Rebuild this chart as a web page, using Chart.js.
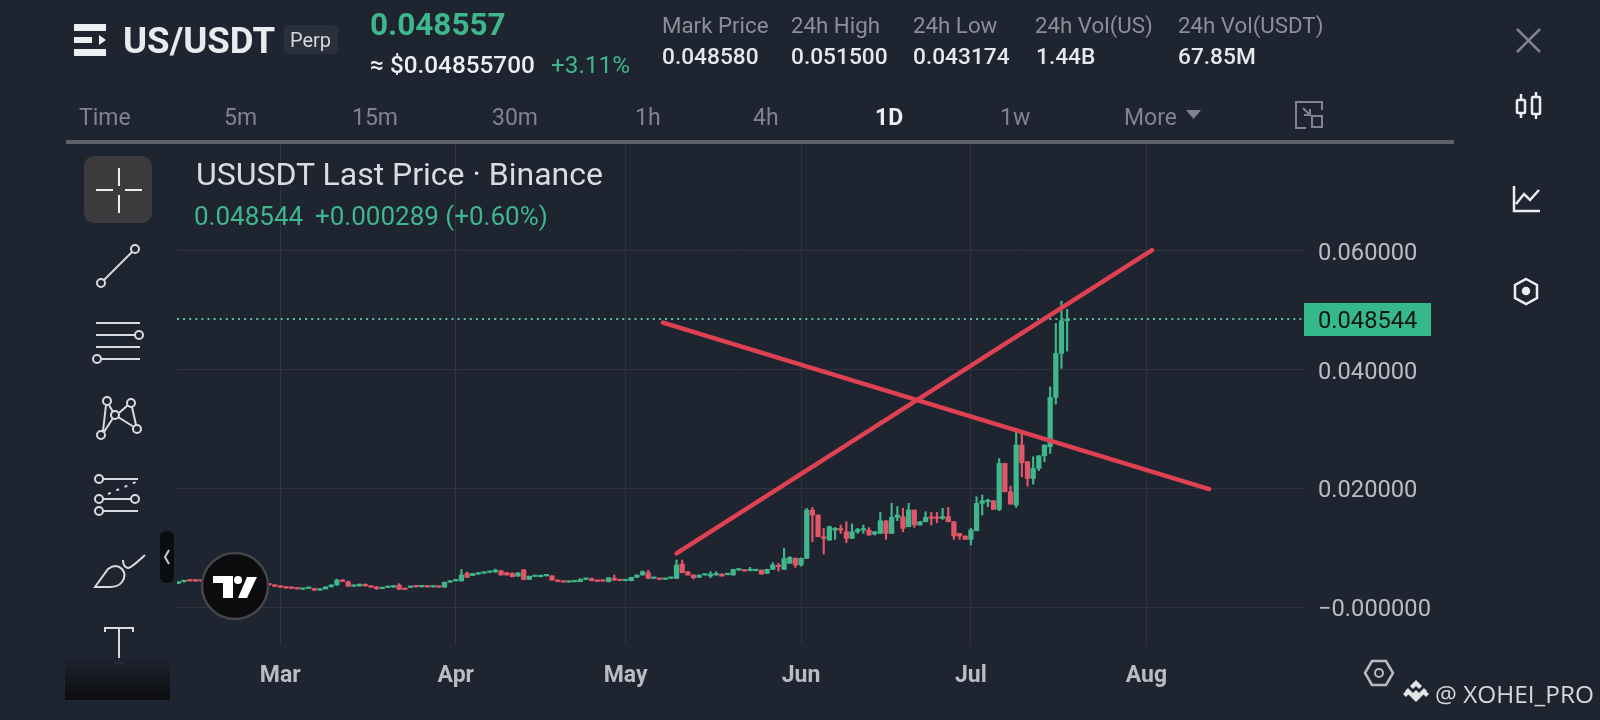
<!DOCTYPE html>
<html>
<head>
<meta charset="utf-8">
<title>US/USDT</title>
<script src="https://cdn.jsdelivr.net/npm/chart.js@4"></script>
<style>
  html, body { margin: 0; padding: 0; background: #1e2430; }
  #wrap { position: relative; width: 1600px; height: 720px; overflow: hidden; font-family: Roboto, sans-serif; }
  #priceChart { position: absolute; left: 0; top: 0; }
  .t { position: absolute; transform: translateY(-50%); white-space: nowrap; line-height: 1; }
  .green { color: #3fb68b; }
  .grey { color: #8a8f99; font-size: 22.3px; }
  .val { color: #e6e8ec; font-size: 22.7px; font-weight: 500; }
  .tab { color: #7f848e; font-size: 23px; top: 117px; }
  svg { position: absolute; left: 0; top: 0; pointer-events: none; }
</style>
</head>
<body>
<div id="wrap">
  <canvas id="priceChart" width="1600" height="720"></canvas>

  <svg width="1600" height="720" fill="none" stroke="#d9dbe0" stroke-width="2">
    <!-- cabecera -->
    <g stroke="none" fill="#eceef2">
      <rect x="74" y="24" width="32" height="7"/><rect x="74" y="37" width="18" height="6"/>
      <path d="M99 35 L106 40 L99 45 Z"/><rect x="74" y="49" width="32" height="7"/>
    </g>
    <rect x="284" y="25" width="54" height="29" rx="4" fill="#2a303b" stroke="none"/>
    <rect x="66" y="140" width="1388" height="4" fill="#5e626b" stroke="none"/>
    <path d="M1186 110 h15 l-7.5 9 Z" fill="#7f848e" stroke="none"/>
    <g stroke="#7f848e"><path d="M1322 110 V102 H1296 V128 H1306"/><path d="M1303 108 l7 7 M1310 109 v6 h-6"/><rect x="1312" y="116" width="10" height="11"/></g>
    <path d="M1517 29 L1540 52 M1540 29 L1517 52" stroke="#7f848e" stroke-width="2.5"/>
    <!-- barra derecha -->
    <g stroke="#eceef2" stroke-width="2.5">
      <rect x="1517" y="100" width="8" height="13" rx="1"/><path d="M1521 94 v6 M1521 113 v5"/>
      <rect x="1532" y="97" width="8" height="17" rx="1"/><path d="M1536 92 v5 M1536 114 v5"/>
      <path d="M1514 186 V211 H1540 M1516 204 l8 -10 l6 6 l9 -10"/>
      <path d="M1526 279 l11 6 v13 l-11 6 l-11 -6 v-13 Z"/><circle cx="1526" cy="291" r="3" fill="#eceef2"/>
    </g>
    <!-- herramientas -->
    <rect x="84" y="156" width="68" height="67" rx="10" fill="#3c3c3f" stroke="none"/>
    <path d="M119 168 v18 M119 195 v18 M96 190 h17 M125 190 h17" stroke="#eceef2"/>
    <g>
      <circle cx="101" cy="283" r="4"/><circle cx="135" cy="249" r="4"/><path d="M104 280 L132 252"/>
      <path d="M96 323 H140 M96 335 H135 M96 347 H140 M101 359 H140"/><circle cx="139" cy="335" r="4"/><circle cx="97" cy="359" r="4"/>
      <circle cx="101" cy="435" r="4"/><circle cx="107" cy="401" r="4"/><circle cx="115" cy="415" r="4"/><circle cx="131" cy="403" r="4"/><circle cx="137" cy="429" r="4"/>
      <path d="M103 431 L106 405 M109 405 L113 412 M113 418 L104 432 M119 413 L128 405 M118 417 L134 427 M132 407 L136 425"/>
      <circle cx="99" cy="479" r="4"/><circle cx="99" cy="499" r="4"/><circle cx="99" cy="511" r="4"/><circle cx="135" cy="499" r="4"/>
      <path d="M103 479 H138 M103 499 H131 M103 511 H138"/><path d="M108 494 L136 482" stroke-dasharray="3 6"/>
      <path d="M95 587 L108 569 Q116 563 122 569 Q127 575 122 582 Q118 587 110 587 Z M123 560 Q123 567 128 568 Q131 568 145 555"/>
      <path d="M105 632 V628 H133 V632 M119 628 V663 M114 663 H124"/>
    </g>
    <defs><linearGradient id="fade" x1="0" y1="0" x2="0" y2="1"><stop offset="0" stop-color="#1e2430"/><stop offset="1" stop-color="#0d0d0f"/></linearGradient></defs>
    <rect x="65" y="658" width="105" height="42" fill="url(#fade)" stroke="none" opacity="0.95"/>
    <rect x="160" y="531" width="14" height="52" rx="6" fill="#0c0d10" stroke="none"/>
    <path d="M169 550 L165 557 L169 564" stroke="#c9ccd2"/>
    <!-- logo -->
    <circle cx="235" cy="586" r="33" fill="#0c0c0e" stroke="#45464a" stroke-width="2.5"/>
    <g fill="#fff" stroke="none"><path d="M213 576 H233 V598 H223 V583 H213 Z"/><circle cx="238" cy="580" r="4"/><path d="M247 577 H257 L247 598 H238 Z"/></g>
    <!-- marca de agua -->
    <path d="M1365 673 l7 -12 h14 l7 12 l-7 12 h-14 Z" stroke="#b8bbc2" stroke-width="2.5"/><circle cx="1379" cy="673" r="4" stroke="#b8bbc2"/>
    <g fill="#e2e3e6" stroke="none"><path d="M1416 680 l6 6 l-3 3 l-3 -3 l-3 3 l-3 -3 Z M1405 691 l3 -3 l8 8 l8 -8 l3 3 l-11 11 Z M1416 690 l4 4 l-4 4 l-4 -4 Z M1403 694 l3 -3 l3 3 l-3 3 Z M1423 694 l3 -3 l3 3 l-3 3 Z"/></g>
  </svg>

  <span class="t" style="left:123px;top:41px;font-size:36.6px;font-weight:700;color:#e9ebef;">US/USDT</span>
  <span class="t" style="left:290px;top:40px;font-size:20px;color:#d5d8de;">Perp</span>
  <span class="t green" style="left:370px;top:25px;font-size:31.5px;font-weight:700;">0.048557</span>
  <span class="t" style="left:370px;top:65px;font-size:24.3px;font-weight:500;color:#eceef2;">≈ $0.04855700</span>
  <span class="t green" style="left:551px;top:65px;font-size:24.3px;">+3.11%</span>

  <span class="t grey" style="left:662px;top:25px;">Mark Price</span>
  <span class="t grey" style="left:791px;top:25px;">24h High</span>
  <span class="t grey" style="left:913px;top:25px;">24h Low</span>
  <span class="t grey" style="left:1035px;top:25px;">24h Vol(US)</span>
  <span class="t grey" style="left:1178px;top:25px;">24h Vol(USDT)</span>
  <span class="t val" style="left:662px;top:57px;">0.048580</span>
  <span class="t val" style="left:791px;top:57px;">0.051500</span>
  <span class="t val" style="left:913px;top:57px;">0.043174</span>
  <span class="t val" style="left:1036px;top:57px;">1.44B</span>
  <span class="t val" style="left:1178px;top:57px;">67.85M</span>

  <span class="t tab" style="left:79px;">Time</span>
  <span class="t tab" style="left:224px;">5m</span>
  <span class="t tab" style="left:352px;">15m</span>
  <span class="t tab" style="left:492px;">30m</span>
  <span class="t tab" style="left:635px;">1h</span>
  <span class="t tab" style="left:753px;">4h</span>
  <span class="t tab" style="left:875px;color:#eceef2;font-weight:700;">1D</span>
  <span class="t tab" style="left:1000px;">1w</span>
  <span class="t tab" style="left:1124px;">More</span>

  <span class="t" style="left:196px;top:174px;font-size:32px;color:#dadce1;">USUSDT Last Price · Binance</span>
  <span class="t green" style="left:194px;top:216px;font-size:26px;">0.048544</span>
  <span class="t green" style="left:315px;top:216px;font-size:26px;">+0.000289 (+0.60%)</span>

  <span class="t" style="left:1435px;top:694px;font-size:24.4px;color:#d6d7da;font-family:'Open Sans',sans-serif;">@ XOHEI_PRO</span>
</div>

<script>
// Velas diarias desde el 11 feb, una posición por día
const opens = [
  .00398,.00426,.00443,.00440,.00438,.00436,.00431,.00427,.00420,.00416,
  .00409,.00406,.00399,.00396,.00389,.00386,.00380,.00365,.00350,.00335,
  .00322,.00315,.00300,.00314,.00312,.00285,.00305,.00340,.00372,.00450,
  .00425,.00350,.00355,.00385,.00355,.00340,.00310,.00330,.00335,.00370,
  .00305,.00330,.00342,.00340,.00345,.00338,.00342,.00335,.00418,.00440,
  .00440,.00565,.00530,.00555,.00570,.00585,.00590,.00610,.00580,.00565,
  .00520,.00625,.00465,.00515,.00510,.00525,.00525,.00455,.00430,.00420,
  .00425,.00427,.00466,.00477,.00444,.00440,.00427,.00483,.00455,.00444,
  .00444,.00500,.00539,.00578,.00483,.00483,.00466,.00483,.00483,.00725,
  .00595,.00539,.00500,.00539,.00522,.00539,.00556,.00545,.00539,.00623,
  .00623,.00612,.00612,.00623,.00567,.00635,.00700,.00635,.00736,.00820,
  .00708,.00820,.01634,.01550,.01185,.01129,.01297,.01314,.01269,.01157,
  .01269,.01297,.01297,.01230,.01241,.01449,.01241,.01511,.01522,.01354,
  .01634,.01382,.01438,.01511,.01511,.01494,.01522,.01438,.01241,.01196,
  .01140,.01285,.01746,.01774,.01791,.01645,.02420,.01943,.01718,.02729,
  .02448,.02167,.02336,.02549,.02701,.03532,.04274,.04824
];
const closes = [
  .00426,.00443,.00440,.00438,.00436,.00431,.00427,.00420,.00416,.00409,
  .00406,.00399,.00396,.00389,.00386,.00380,.00372,.00350,.00335,.00320,
  .00315,.00305,.00314,.00318,.00285,.00305,.00340,.00372,.00455,.00430,
  .00350,.00355,.00385,.00355,.00335,.00310,.00330,.00335,.00355,.00300,
  .00295,.00342,.00340,.00345,.00338,.00342,.00335,.00418,.00440,.00460,
  .00540,.00500,.00565,.00575,.00585,.00590,.00622,.00540,.00540,.00510,
  .00575,.00465,.00520,.00525,.00535,.00540,.00455,.00430,.00420,.00425,
  .00427,.00466,.00470,.00444,.00433,.00437,.00494,.00455,.00444,.00455,
  .00500,.00539,.00595,.00483,.00490,.00466,.00477,.00500,.00708,.00578,
  .00539,.00494,.00539,.00545,.00556,.00567,.00522,.00550,.00635,.00640,
  .00607,.00635,.00615,.00556,.00635,.00708,.00680,.00820,.00837,.00708,
  .00820,.01634,.01550,.01185,.01157,.01354,.01326,.01297,.01157,.01269,
  .01309,.01309,.01213,.01269,.01455,.01241,.01511,.01550,.01326,.01634,
  .01382,.01438,.01511,.01494,.01494,.01522,.01438,.01196,.01196,.01140,
  .01297,.01746,.01791,.01802,.01645,.02420,.01943,.01735,.02729,.02431,
  .02167,.02336,.02549,.02729,.03532,.04274,.04824,.04854
];
const highs = [
  .00430,.00448,.00446,.00443,.00441,.00438,.00433,.00429,.00423,.00418,
  .00412,.00408,.00402,.00398,.00392,.00388,.00383,.00372,.00353,.00338,
  .00325,.00318,.00316,.00321,.00318,.00308,.00343,.00375,.00470,.00465,
  .00440,.00358,.00388,.00388,.00358,.00343,.00333,.00338,.00358,.00395,
  .00308,.00345,.00345,.00348,.00347,.00345,.00344,.00420,.00442,.00462,
  .00634,.00590,.00568,.00578,.00588,.00593,.00640,.00615,.00583,.00580,
  .00578,.00635,.00523,.00528,.00538,.00543,.00530,.00458,.00433,.00428,
  .00430,.00480,.00473,.00490,.00447,.00443,.00497,.00539,.00458,.00458,
  .00503,.00542,.00610,.00620,.00493,.00486,.00480,.00503,.00792,.00790,
  .00598,.00542,.00542,.00548,.00595,.00595,.00559,.00553,.00638,.00643,
  .00626,.00668,.00618,.00626,.00638,.00747,.00735,.00989,.00850,.00830,
  .00830,.01663,.01679,.01553,.01326,.01365,.01342,.01382,.01438,.01399,
  .01326,.01382,.01337,.01272,.01595,.01460,.01747,.01691,.01663,.01747,
  .01637,.01441,.01606,.01595,.01595,.01663,.01679,.01441,.01244,.01199,
  .01326,.01858,.01886,.01819,.01794,.02504,.02423,.02038,.02982,.02954,
  .02451,.02533,.02552,.02732,.03712,.04779,.05156,.05015
];
const lows = [
  .00395,.00420,.00437,.00435,.00433,.00428,.00424,.00417,.00413,.00406,
  .00403,.00396,.00393,.00386,.00383,.00377,.00369,.00345,.00332,.00317,
  .00312,.00302,.00297,.00311,.00275,.00282,.00302,.00337,.00365,.00427,
  .00345,.00347,.00352,.00352,.00332,.00295,.00307,.00327,.00332,.00295,
  .00292,.00327,.00337,.00337,.00335,.00335,.00332,.00332,.00415,.00437,
  .00437,.00497,.00527,.00552,.00567,.00582,.00587,.00537,.00537,.00507,
  .00517,.00462,.00462,.00512,.00507,.00522,.00452,.00427,.00417,.00417,
  .00422,.00424,.00463,.00441,.00430,.00434,.00424,.00445,.00441,.00441,
  .00441,.00497,.00536,.00480,.00480,.00463,.00463,.00480,.00480,.00575,
  .00536,.00472,.00497,.00536,.00494,.00536,.00519,.00542,.00536,.00620,
  .00604,.00609,.00609,.00553,.00564,.00632,.00606,.00632,.00733,.00668,
  .00690,.00817,.01101,.01182,.00893,.01126,.01140,.01241,.01084,.01154,
  .01241,.01241,.01210,.01213,.01238,.01140,.01238,.01455,.01269,.01351,
  .01342,.01379,.01435,.01382,.01421,.01477,.01435,.01140,.01140,.01137,
  .01044,.01282,.01550,.01690,.01642,.01623,.01940,.01732,.01679,.02195,
  .02038,.02072,.02297,.02448,.02589,.03420,.04021,.04313
];

const monthTicks = [18, 49, 79, 110, 140, 171];
const monthLabels = ["Mar", "Apr", "May", "Jun", "Jul", "Aug"];
const priceTicks = [0, 0.02, 0.04, 0.06];
const priceLabels = ["\u22120.000000", "0.020000", "0.040000", "0.060000"];
const lastPrice = 0.048544;
const lastPriceLabel = "0.048544";

// Líneas dibujadas a mano sobre el gráfico
const riseLine = [{ x: 88, y: 0.00905 }, { x: 172, y: 0.06015 }];
const fallLine = [{ x: 85.6, y: 0.04794 }, { x: 182.1, y: 0.01988 }];

const xMin = -0.25;
const xMax = 199.2;

const UP = "#3fb68b";
const DOWN = "#e2566a";
const LINE_RED = "#de4152";
const GRID = "#2f343f";
const TICK = "#b9bcc3";

const candleColor = (ctx) => closes[ctx.dataIndex] >= opens[ctx.dataIndex] ? UP : DOWN;

// Etiqueta del último precio, en el eje derecho
const lastPriceTag = {
  id: "lastPriceTag",
  afterDatasetsDraw(chart) {
    const y = chart.scales.y.getPixelForValue(lastPrice);
    const c = chart.ctx;
    c.save();
    c.fillStyle = "#35b98a";
    c.fillRect(1304, Math.round(y) - 16, 127, 33);
    c.fillStyle = "#10151c";
    c.font = "23.7px Roboto";
    c.textBaseline = "middle";
    c.fillText(lastPriceLabel, 1318, y + 3);
    c.restore();
  }
};

new Chart(document.getElementById("priceChart"), {
  type: "bar",
  plugins: [lastPriceTag],
  data: {
    datasets: [
      { type: "line", data: riseLine, borderColor: LINE_RED, borderWidth: 4.5, borderCapStyle: "round", pointRadius: 0, order: 0, clip: false },
      { type: "line", data: fallLine, borderColor: LINE_RED, borderWidth: 4.5, borderCapStyle: "round", pointRadius: 0, order: 0, clip: false },
      { type: "line", data: [{ x: xMin, y: lastPrice }, { x: xMax, y: lastPrice }], borderColor: "#58c29f", borderWidth: 2, borderDash: [2, 4.1], pointRadius: 0, order: 3 },
      { data: opens.map((o, i) => ({ x: i, y: [o, closes[i]] })), backgroundColor: candleColor, barThickness: 4.6, minBarLength: 1.5, grouped: false, order: 1 },
      { data: lows.map((l, i) => ({ x: i, y: [l, highs[i]] })), backgroundColor: candleColor, barThickness: 1.5, grouped: false, order: 2 }
    ]
  },
  options: {
    responsive: false,
    animation: false,
    events: [],
    layout: { padding: { left: 177, top: 143 } },
    plugins: { legend: { display: false }, tooltip: { enabled: false } },
    scales: {
      x: {
        type: "linear",
        offset: false,
        min: xMin,
        max: xMax,
        afterFit: (s) => { s.height = 75; },
        afterBuildTicks: (s) => { s.ticks = monthTicks.map((v) => ({ value: v })); },
        grid: { color: GRID, offset: false, drawTicks: false },
        border: { display: false },
        ticks: {
          autoSkip: false,
          maxRotation: 0,
          padding: 17,
          color: TICK,
          font: { family: "Roboto", size: 23, weight: "bold" },
          callback: (v) => monthLabels[monthTicks.indexOf(v)]
        }
      },
      y: {
        position: "right",
        min: -0.0064,
        max: 0.0782,
        afterFit: (s) => { s.width = 294; },
        afterBuildTicks: (s) => { s.ticks = priceTicks.map((v) => ({ value: v })); },
        grid: { color: GRID, drawTicks: false },
        border: { display: false },
        ticks: {
          padding: 12,
          labelOffset: 3,
          color: TICK,
          font: { family: "Roboto", size: 23.7 },
          callback: (v) => priceLabels[priceTicks.indexOf(v)]
        }
      }
    }
  }
});
</script>
</body>
</html>
